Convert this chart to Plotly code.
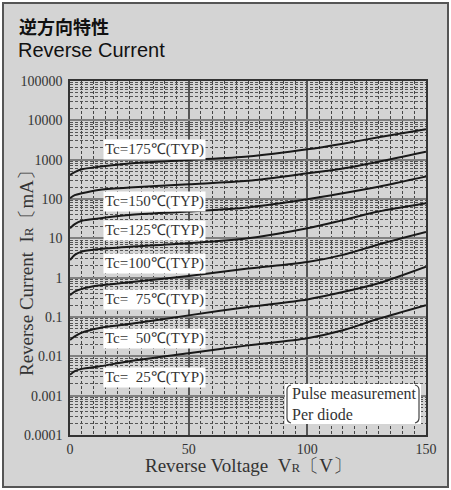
import math
import plotly.graph_objects as go

# ---------------- data ----------------
voltage = [0, 2, 5, 12, 25, 50, 75, 100, 115, 130, 150]
ir_175 = [410, 480, 570, 660, 800, 980, 1200, 1830, 2550, 3700, 5900]
ir_150 = [105, 125, 140, 170, 195, 237, 290, 450, 600, 890, 1600]
ir_125 = [18, 23, 28, 32, 39, 48, 61, 98, 140, 206, 375]
ir_100 = [2.8, 3.8, 4.6, 5.3, 6.1, 7.5, 10, 18, 29, 48, 78]
ir_75 = [0.36, 0.44, 0.52, 0.63, 0.76, 1.1, 1.7, 2.5, 3.8, 7.0, 14.5]
ir_50 = [0.026, 0.032, 0.04, 0.052, 0.066, 0.11, 0.18, 0.28, 0.43, 0.72, 1.9]
ir_25 = [0.0034, 0.0042, 0.0048, 0.0055, 0.0075, 0.012, 0.019, 0.029, 0.046, 0.09, 0.2]

series = [ir_175, ir_150, ir_125, ir_100, ir_75, ir_50, ir_25]

curve_labels = ["Tc=175℃(TYP)", "Tc=150℃(TYP)", "Tc=125℃(TYP)", "Tc=100℃(TYP)",
                "Tc=\u00a0\u00a075℃(TYP)", "Tc=\u00a0\u00a050℃(TYP)", "Tc=\u00a0\u00a025℃(TYP)"]
label_x = [35.5, 35.5, 35.5, 35.5, 35.5, 35.5, 35.5]
label_y = [1830, 85, 16, 2.3, 0.28, 0.029, 0.0029]

x_tickvals = [0, 50, 100, 150]
x_ticktext = ["0", "50", "100", "150"]
y_tickvals = [1e5, 1e4, 1e3, 1e2, 1e1, 1, 0.1, 0.01, 0.001, 0.0001]
y_ticktext = ["100000", "10000", "1000", "100", "10", "1", "0.1", "0.01", "0.001", "0.0001"]

title_jp = "逆方向特性"
title_en = "Reverse Current"
x_title = "Reverse Voltage\u00a0\u00a0V<span style=\"font-size:13px\">R</span>〔V〕"
y_title = "Reverse Current\u00a0\u00a0I<span style=\"font-size:13px\">R</span>〔mA〕"
note_text = "Pulse measurement<br>Per diode"

# ---------------- layout geometry ----------------
W, H = 451, 490
L, R, T, B = 70, 426, 81, 435  # plot area in pixels


def px(xp):
    return (xp - L) / (R - L)


def py(yp):
    return (B - yp) / (B - T)


fig = go.Figure()
for ys in series:
    fig.add_trace(go.Scatter(x=voltage, y=ys, mode="lines",
                             line=dict(color="#1a1a1a", width=2, shape="spline", smoothing=0.8),
                             showlegend=False, hoverinfo="skip"))

serif = "Liberation Serif, Times New Roman, serif"
txtcol = "#333333"

annotations = []
for t, lx, ly in zip(curve_labels, label_x, label_y):
    annotations.append(dict(x=lx, y=math.log10(ly), xref="x", yref="y", text=t,
                            showarrow=False, bgcolor="white", borderpad=1,
                            font=dict(family=serif, size=15, color=txtcol)))

annotations += [
    dict(x=px(17), y=py(26), xref="paper", yref="paper", text="<b>" + title_jp + "</b>",
         showarrow=False, xanchor="left", yanchor="middle",
         font=dict(family="Noto Sans CJK JP", size=18, color="#111")),
    dict(x=px(16), y=py(50), xref="paper", yref="paper", text=title_en,
         showarrow=False, xanchor="left", yanchor="middle",
         font=dict(family="Liberation Sans, Arial", size=20, color="#111")),
    dict(x=0.5, y=py(466), xref="paper", yref="paper", text=x_title,
         showarrow=False, xanchor="center", yanchor="middle",
         font=dict(family=serif, size=19, color=txtcol)),
    dict(x=px(26), y=py(269), xref="paper", yref="paper", text=y_title, textangle=-90,
         showarrow=False, xanchor="center", yanchor="middle",
         font=dict(family=serif, size=19, color=txtcol)),
    dict(x=px(290), y=py(404), xref="paper", yref="paper", text=note_text,
         showarrow=False, xanchor="left", yanchor="middle", align="left",
         font=dict(family=serif, size=16, color=txtcol)),
]

shapes = [
    # outer frame
    dict(type="rect", xref="paper", yref="paper", x0=px(3), x1=px(448), y0=py(487), y1=py(3),
         fillcolor="#d4d4d4", line=dict(color="#555555", width=2), layer="below"),
    # white note box
    dict(type="rect", xref="paper", yref="paper", x0=px(285), x1=px(421), y0=py(424), y1=py(384),
         fillcolor="white", line=dict(width=0), layer="above"),
]


def bracket(x_edge, x_tip):
    return (f"M {px(x_tip)} {py(385)} Q {px(x_edge)} {py(386)} {px(x_edge)} {py(390)} "
            f"L {px(x_edge)} {py(418)} Q {px(x_edge)} {py(422)} {px(x_tip)} {py(423)}")


shapes.append(dict(type="path", xref="paper", yref="paper", path=bracket(287, 291),
                   line=dict(color="#444", width=1.2), layer="above"))
shapes.append(dict(type="path", xref="paper", yref="paper", path=bracket(419, 415),
                   line=dict(color="#444", width=1.2), layer="above"))

minor_y = [k * 10 ** e for e in range(-4, 5) for k in range(2, 10)]

fig.update_layout(
    width=W, height=H,
    margin=dict(l=L, r=W - R, t=T, b=H - B, pad=0),
    paper_bgcolor="white",
    plot_bgcolor="white",
    annotations=annotations,
    shapes=shapes,
    xaxis=dict(range=[0, 150], tickvals=x_tickvals, ticktext=x_ticktext,
               showgrid=True, gridcolor="#555555", gridwidth=1.5,
               showline=True, mirror=True, linecolor="#333", linewidth=1.5,
               ticks="", zeroline=False,
               tickfont=dict(family=serif, size=14, color=txtcol),
               minor=dict(dtick=5, showgrid=True, gridcolor="#444444", gridwidth=1,
                          griddash="3px,2px")),
    yaxis=dict(type="log", range=[-4, 5], tickvals=y_tickvals, ticktext=y_ticktext,
               showgrid=True, gridcolor="#808080", gridwidth=2.2,
               showline=True, mirror=True, linecolor="#333", linewidth=1.5,
               ticks="", zeroline=False, ticklabelstandoff=3,
               tickfont=dict(family=serif, size=14, color=txtcol),
               minor=dict(tickvals=minor_y, showgrid=True, gridcolor="#555555", gridwidth=1,
                          griddash="3px,2px")),
)

fig.write_html("out.html", config={"displayModeBar": False},
               post_script="document.body.style.margin='0';")
